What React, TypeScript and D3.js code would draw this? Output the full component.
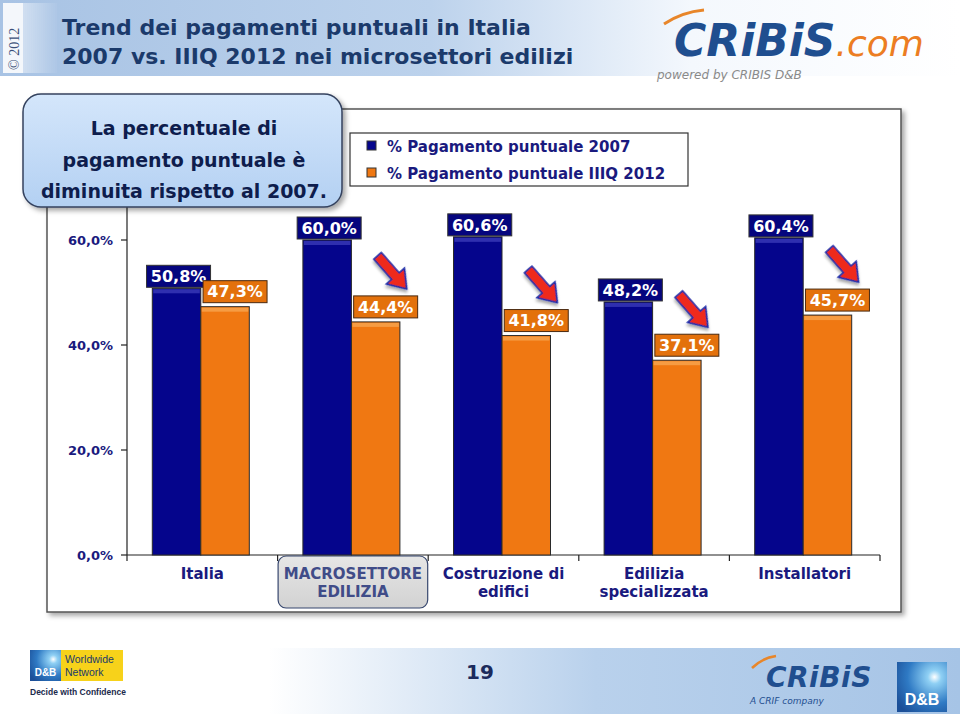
import React from "react";
import * as d3 from "d3";

const categories = ["Italia", "MACROSETTORE EDILIZIA", "Costruzione di edifici", "Edilizia specializzata", "Installatori"];
const categoryLines = [["Italia"], ["MACROSETTORE", "EDILIZIA"], ["Costruzione di", "edifici"], ["Edilizia", "specializzata"], ["Installatori"]];
const series = ["% Pagamento puntuale 2007", "% Pagamento puntuale IIIQ 2012"];
const values2007 = [50.8, 60.0, 60.6, 48.2, 60.4];
const values2012 = [47.3, 44.4, 41.8, 37.1, 45.7];
const yTicks = [0, 20, 40, 60];
const arrowFlags = [false, true, true, true, true];
const calloutLines = ["La percentuale di", "pagamento puntuale è", "diminuita rispetto al 2007."];

const FONT = "'DejaVu Sans', Verdana, sans-serif";
const NAVY = "#1a1a7e";
const BLUE = "#05058c";
const ORANGE = "#f07812";

const fmt = (v: number) => v.toFixed(1).replace(".", ",") + "%";

export default function App() {
  const x = d3.scaleBand<string>().domain(categories).range([127, 880]).padding(0);
  const y = d3.scaleLinear().domain([0, 60]).range([555, 240]);
  const inner = d3.scaleBand<string>().domain(series).range([0, 97]).padding(0);
  const bw = inner.bandwidth();
  const groupOff = (x.bandwidth() - 97) / 2 - 1.5;

  const arrowPath = (() => {
    const L = 44, shaft = 10, head = 24, hl = 17;
    const p = d3.path();
    p.moveTo(0, 0);
    p.lineTo(-hl, -head / 2);
    p.lineTo(-hl, -shaft / 2);
    p.lineTo(-L, -shaft / 2);
    p.lineTo(-L, shaft / 2);
    p.lineTo(-hl, shaft / 2);
    p.lineTo(-hl, head / 2);
    p.closePath();
    return p.toString();
  })();
  const arrowAngle = (Math.atan2(33, 29) * 180) / Math.PI;

  return (
    <svg width={960} height={716} style={{ position: "absolute", left: 0, top: 0, background: "#fff" }} fontFamily={FONT}>
      <defs>
        <linearGradient id="hdr" x1="0" x2="1" y1="0" y2="0">
          <stop offset="0" stopColor="#a8c3e4" />
          <stop offset="0.45" stopColor="#bcd2ec" />
          <stop offset="0.72" stopColor="#f4f8fd" />
          <stop offset="1" stopColor="#ffffff" />
        </linearGradient>
        <linearGradient id="ftr" x1="0" x2="1" y1="0" y2="0">
          <stop offset="0" stopColor="#ffffff" />
          <stop offset="0.28" stopColor="#ffffff" />
          <stop offset="0.62" stopColor="#b9d1ec" />
          <stop offset="1" stopColor="#a6c4e6" />
        </linearGradient>
        <linearGradient id="callout" x1="0" x2="0" y1="0" y2="1">
          <stop offset="0" stopColor="#d4e6fb" />
          <stop offset="1" stopColor="#b3d0f2" />
        </linearGradient>
        <linearGradient id="macro" x1="0" x2="0" y1="0" y2="1">
          <stop offset="0" stopColor="#e6e6e6" />
          <stop offset="1" stopColor="#d2d2d2" />
        </linearGradient>
        <radialGradient id="dnb" cx="0.75" cy="0.3" r="0.9">
          <stop offset="0" stopColor="#ffffff" />
          <stop offset="0.15" stopColor="#8fd0f4" />
          <stop offset="0.6" stopColor="#2f7ac4" />
          <stop offset="1" stopColor="#1b4f98" />
        </radialGradient>
        <filter id="shadow" x="-10%" y="-10%" width="130%" height="140%">
          <feDropShadow dx="3" dy="3" stdDeviation="2.5" floodColor="#000" floodOpacity="0.35" />
        </filter>
        <filter id="ashadow" x="-30%" y="-30%" width="160%" height="160%">
          <feDropShadow dx="2" dy="2" stdDeviation="1.5" floodColor="#000" floodOpacity="0.35" />
        </filter>
      </defs>

      {/* header */}
      <rect x={0} y={0} width={960} height={76} fill="url(#hdr)" />
      <rect x={3} y={3} width={20} height={70} fill="#f4f7fb" />
      {d3.range(24, 58, 2).map((xx, i) => (
        <line key={i} x1={xx} x2={xx} y1={3} y2={73} stroke="#ffffff" strokeOpacity={0.9 - i * 0.05} strokeWidth={1} />
      ))}
      <text transform="translate(19,70) rotate(-90)" fontSize={14} fill="#3a4f78" fontFamily="'Liberation Serif', serif">© 2012</text>
      <text x={62} y={35} fontSize={22} fontWeight="bold" fill="#1b3a6b">Trend dei pagamenti puntuali in Italia</text>
      <text x={62} y={64} fontSize={22} fontWeight="bold" fill="#1b3a6b">2007 vs. IIIQ 2012 nei microsettori edilizi</text>

      {/* logo */}
      <path d="M664,24 Q682,12 704,10" stroke="#e8862a" strokeWidth={3} fill="none" />
      <text x={674} y={56} fontSize={44} fontStyle="italic" fontWeight="bold" fill="#1f4e8f" letterSpacing={0}>
        CRiBiS<tspan fill="#ec7d22" fontWeight="normal" fontSize={36}>.com</tspan>
      </text>
      <text x={657} y={79} fontSize={12} fontStyle="italic" fill="#8a8a8a">powered by CRIBIS D&amp;B</text>

      {/* chart frame */}
      <rect x={47} y={109} width={854} height={503} fill="#fff" stroke="#555" strokeWidth={1.5} filter="url(#shadow)" />

      {/* legend */}
      <rect x={350} y={133} width={338} height={53} fill="#fff" stroke="#333" strokeWidth={1.2} />
      {series.map((s, i) => (
        <g key={s}>
          <rect x={367} y={141 + i * 27} width={9} height={9} fill={i === 0 ? BLUE : ORANGE} stroke="#333" strokeWidth={1} />
          <text x={387} y={152 + i * 27} fontSize={15} fontWeight="bold" fill={NAVY}>{s}</text>
        </g>
      ))}

      {/* y axis */}
      <line x1={127} x2={127} y1={195} y2={555} stroke="#222" strokeWidth={1.2} />
      {yTicks.map((t) => (
        <g key={t}>
          <line x1={121} x2={127} y1={y(t)} y2={y(t)} stroke="#222" strokeWidth={1.2} />
          <text x={113} y={y(t)} dy="0.35em" textAnchor="end" fontSize={13} fontWeight="bold" fill={NAVY}>
            {fmt(t)}
          </text>
        </g>
      ))}

      {/* x axis */}
      <line x1={127} x2={880} y1={555} y2={555} stroke="#222" strokeWidth={1.2} />
      {[...categories.map((c) => x(c) as number), 880].map((xx, i) => (
        <line key={i} x1={xx} x2={xx} y1={555} y2={561} stroke="#222" strokeWidth={1.2} />
      ))}

      {/* highlighted category */}
      <rect x={(x(categories[1]) as number) + 0.5} y={556} width={x.bandwidth() - 1} height={52} rx={8} fill="url(#macro)" stroke="#37476e" strokeWidth={1.2} />

      {categoryLines.map((lines, i) => (
        <g key={i}>
          {lines.map((ln, j) => (
            <text key={j} x={(x(categories[i]) as number) + x.bandwidth() / 2} y={579 + j * 18} textAnchor="middle" fontSize={15} fontWeight="bold" fill={i === 1 ? "#404c88" : NAVY}>
              {ln}
            </text>
          ))}
        </g>
      ))}

      {/* bars */}
      {categories.map((c, i) => {
        const gx = (x(c) as number) + groupOff;
        const vals = [values2007[i], values2012[i]];
        return (
          <g key={c}>
            {vals.map((v, k) => {
              const bx = gx + (inner(series[k]) as number);
              const col = k === 0 ? BLUE : ORANGE;
              const hi = k === 0 ? "#3a3ab8" : "#f8a550";
              return (
                <g key={k}>
                  <rect x={bx} y={y(v)} width={bw} height={y(0) - y(v)} fill={col} stroke="#2a2a2a" strokeWidth={1} />
                  <rect x={bx + 1} y={y(v) + 1} width={bw - 2} height={4} fill={hi} opacity={0.8} />
                </g>
              );
            })}
          </g>
        );
      })}

      {/* labels and arrows */}
      {categories.map((c, i) => {
        const gx = (x(c) as number) + groupOff;
        const cb = gx + (inner(series[0]) as number) + bw / 2;
        const co = gx + (inner(series[1]) as number) + bw / 2;
        const lw = 64, lh = 22;
        const bTop = y(values2007[i]) - 1 - lh;
        const oTop = y(values2012[i]) - 4 - lh;
        const ocx = co + 10;
        return (
          <g key={c}>
            <rect x={cb + 2 - lw / 2} y={bTop} width={lw} height={lh} fill="#05057e" stroke="#333" strokeWidth={1} />
            <text x={cb + 2} y={bTop + lh / 2} dy="0.36em" textAnchor="middle" fontSize={16} fontWeight="bold" fill="#fff">
              {fmt(values2007[i])}
            </text>
            <rect x={ocx - lw / 2} y={oTop} width={lw} height={lh} fill="#e3710c" stroke="#4a2a10" strokeWidth={1} />
            <text x={ocx} y={oTop + lh / 2} dy="0.36em" textAnchor="middle" fontSize={16} fontWeight="bold" fill="#fff">
              {fmt(values2012[i])}
            </text>
            {arrowFlags[i] && (
              <path d={arrowPath} transform={`translate(${ocx + 21},${oTop - 7}) rotate(${arrowAngle})`} fill="#ee2a1b" stroke="#1c2aa8" strokeWidth={1.6} strokeLinejoin="miter" filter="url(#ashadow)" />
            )}
          </g>
        );
      })}

      {/* callout */}
      <rect x={23} y={94} width={319} height={113} rx={18} fill="url(#callout)" stroke="#34425e" strokeWidth={1.5} filter="url(#shadow)" />
      {calloutLines.map((ln, i) => (
        <text key={i} x={184} y={135 + i * 31.5} textAnchor="middle" fontSize={19} fontWeight="bold" fill="#0e1d4d">
          {ln}
        </text>
      ))}

      {/* footer */}
      <rect x={0} y={648} width={960} height={66} fill="url(#ftr)" />
      <text x={480} y={679} textAnchor="middle" fontSize={20} fontWeight="bold" fill="#1b2a5c">19</text>

      {/* D&B worldwide logo */}
      <rect x={30} y={650} width={31} height={31} fill="url(#dnb)" />
      <text x={45.5} y={676} textAnchor="middle" fontSize={10} fontWeight="bold" fill="#fff" fontFamily="'Liberation Sans', sans-serif">D&amp;B</text>
      <rect x={61} y={650} width={62} height={31} fill="#f7d21a" />
      <text x={65} y={663} fontSize={10.5} fill="#1b3a6b" fontFamily="'Liberation Sans', sans-serif">Worldwide</text>
      <text x={65} y={676} fontSize={10.5} fill="#1b3a6b" fontFamily="'Liberation Sans', sans-serif">Network</text>
      <text x={30} y={695} fontSize={8.5} fontWeight="bold" fill="#1b2a4c" fontFamily="'Liberation Sans', sans-serif">Decide with Confidence</text>

      {/* right footer logos */}
      <path d="M752,668 Q762,658 776,656" stroke="#e8862a" strokeWidth={2.5} fill="none" />
      <text x={766} y={687} fontSize={28} fontStyle="italic" fontWeight="bold" fill="#1f4e8f" letterSpacing={0.5}>CRiBiS</text>
      <text x={750} y={704} fontSize={9} fontStyle="italic" fill="#1f4e8f">A CRIF company</text>
      <rect x={897} y={662} width={50} height={50} fill="url(#dnb)" />
      <text x={922} y={705} textAnchor="middle" fontSize={16} fontWeight="bold" fill="#fff" fontFamily="'Liberation Sans', sans-serif">D&amp;B</text>
    </svg>
  );
}
